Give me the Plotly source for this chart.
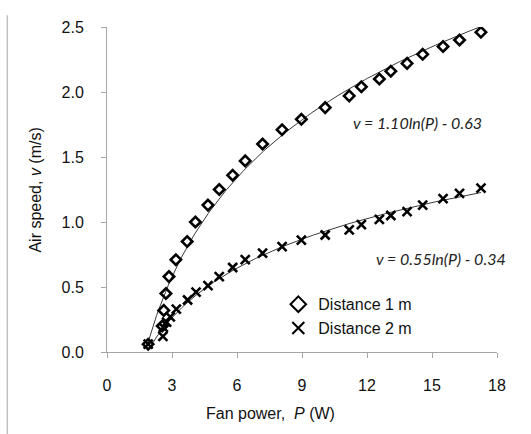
import numpy as np
import plotly.graph_objects as go

# Distance 1 m
p1 = [1.9, 2.55, 2.62, 2.72, 2.86, 3.18, 3.70, 4.08, 4.66, 5.18, 5.80, 6.38, 7.18, 8.08, 8.97,
      10.07, 11.18, 11.74, 12.57, 13.10, 13.85, 14.57, 15.51, 16.27, 17.26]
v1 = [0.06, 0.20, 0.32, 0.45, 0.58, 0.71, 0.85, 1.00, 1.13, 1.25, 1.36, 1.47, 1.60, 1.71, 1.79,
      1.88, 1.97, 2.04, 2.10, 2.16, 2.22, 2.29, 2.35, 2.40, 2.46]
# Distance 2 m
p2 = [1.9, 2.58, 2.60, 2.75, 2.92, 3.20, 3.72, 4.11, 4.66, 5.18, 5.80, 6.38, 7.18, 8.08, 8.97,
      10.07, 11.18, 11.74, 12.57, 13.10, 13.85, 14.57, 15.51, 16.27, 17.26]
v2 = [0.06, 0.12, 0.19, 0.23, 0.27, 0.33, 0.40, 0.46, 0.51, 0.58, 0.65, 0.71, 0.76, 0.81, 0.86,
      0.90, 0.94, 0.98, 1.02, 1.05, 1.08, 1.13, 1.18, 1.22, 1.26]

# Logarithmic trendline coefficients (from chart equations)
fit1 = (1.10, -0.63)
fit2 = (0.55, -0.34)

x_ticks = [0, 3, 6, 9, 12, 15, 18]
y_ticks = [0.0, 0.5, 1.0, 1.5, 2.0, 2.5]

# plot-area geometry in pixels
L, R, T, B = 106.7, 496.7, 26.7, 351.7
W, H = R - L, B - T


def px_x(px):
    return (px - L) / W


def px_y(py):
    return (B - py) / H


fig = go.Figure()

for p, coef in ((p1, fit1), (p2, fit2)):
    pp = np.linspace(min(p), max(p), 200)
    fig.add_trace(go.Scatter(x=pp, y=coef[0] * np.log(pp) + coef[1], mode="lines",
                             line=dict(color="#3a3a3a", width=1), showlegend=False,
                             hoverinfo="skip"))

fig.add_trace(go.Scatter(x=p1, y=v1, mode="markers", name="Distance 1 m",
                         marker=dict(symbol="diamond-open", size=8, color="black",
                                     line=dict(color="black", width=2.6))))
fig.add_trace(go.Scatter(x=p2, y=v2, mode="markers", name="Distance 2 m",
                         marker=dict(symbol="x-thin", size=9, color="black",
                                     line=dict(color="black", width=2.6))))

txt_font = dict(family="Liberation Sans, Arial", size=16, color="#111111")
axis_common = dict(showgrid=False, zeroline=False, showline=True, linecolor="#a6a6a6",
                   linewidth=1, ticks="outside", ticklen=5, tickcolor="#a6a6a6",
                   tickfont=txt_font, ticklabelstandoff=14, automargin=False)

fig.update_xaxes(range=[0, 18], tickvals=x_ticks, ticktext=[str(t) for t in x_ticks],
                 **axis_common)
fig.update_yaxes(range=[0, 2.5], tickvals=y_ticks, ticktext=[f"{t:.1f}" for t in y_ticks],
                 **axis_common)

# axis titles
fig.add_annotation(x=px_x(270), y=px_y(413), xref="paper", yref="paper",
                   text="Fan power,&nbsp; <i>P</i> (W)", showarrow=False, font=txt_font,
                   xanchor="center", yanchor="middle")
fig.add_annotation(x=px_x(35), y=px_y(190), xref="paper", yref="paper",
                   text="Air speed, <i>v</i> (m/s)", showarrow=False, font=txt_font,
                   textangle=-90, xanchor="center", yanchor="middle")

eq_font = dict(family="Lato, Open Sans, sans-serif", size=16, color="#222222")
fig.add_annotation(x=px_x(417), y=px_y(122), xref="paper", yref="paper",
                   text="<i>v = 1.10ln(P) - 0.63</i>", showarrow=False, font=eq_font,
                   xanchor="center", yanchor="middle")
fig.add_annotation(x=px_x(441), y=px_y(258), xref="paper", yref="paper",
                   text="<i>v = 0.55ln(P) - 0.34</i>", showarrow=False, font=eq_font,
                   xanchor="center", yanchor="middle")

# left border line
fig.add_shape(type="line", xref="paper", yref="paper",
              x0=px_x(7), x1=px_x(7), y0=px_y(440), y1=px_y(15),
              line=dict(color="#c0c0c0", width=1.5))

fig.update_layout(
    width=531, height=434,
    margin=dict(l=L, r=531 - R, t=T, b=434 - B),
    paper_bgcolor="white", plot_bgcolor="white",
    legend=dict(x=px_x(278), y=px_y(287), xanchor="left", yanchor="top",
                font=txt_font, bgcolor="rgba(0,0,0,0)", tracegroupgap=0,
                itemsizing="constant"),
)

fig.write_html("out.html", config={"displayModeBar": False},
               post_script="document.body.style.margin='0';"
                           "document.body.style.overflow='hidden';")
